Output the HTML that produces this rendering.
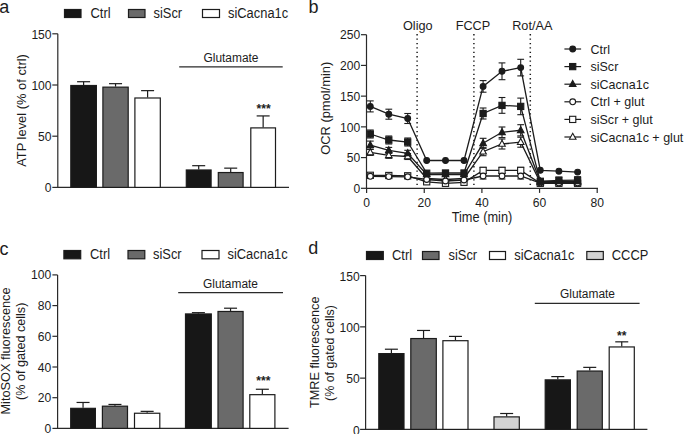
<!DOCTYPE html>
<html><head><meta charset="utf-8"><style>
html,body{margin:0;padding:0;background:#fff;}
svg{display:block;}
text{font-family:"Liberation Sans",sans-serif;fill:#1c1c1c;}
</style></head><body>
<svg width="685" height="434" viewBox="0 0 685 434">
<rect width="685" height="434" fill="#fff"/>
<text transform="translate(-0.80,12.90)" font-size="18" text-anchor="start" >a</text>
<rect x="64.5" y="9.5" width="16.5" height="8" fill="#171717" stroke="#1c1c1c" stroke-width="1.2"/>
<text transform="translate(90.50,18.00) scale(0.97,1.045)" font-size="13.3" text-anchor="start" >Ctrl</text>
<rect x="128.5" y="9.5" width="16.5" height="8" fill="#6a6a6a" stroke="#1c1c1c" stroke-width="1.2"/>
<text transform="translate(153.50,18.00) scale(0.97,1.045)" font-size="13.3" text-anchor="start" >siScr</text>
<rect x="202.5" y="9.5" width="17" height="8" fill="#fff" stroke="#1c1c1c" stroke-width="1.2"/>
<text transform="translate(228.00,18.00) scale(0.97,1.045)" font-size="13.3" text-anchor="start" >siCacna1c</text>
<line x1="57.8" y1="33.8" x2="57.8" y2="187.9" stroke="#2a2a2a" stroke-width="1.2" />
<line x1="52.3" y1="187.4" x2="57.8" y2="187.4" stroke="#2a2a2a" stroke-width="1.2" />
<text transform="translate(51.60,192.10) scale(0.97,1.045)" font-size="12.5" text-anchor="end" >0</text>
<line x1="52.3" y1="136.2" x2="57.8" y2="136.2" stroke="#2a2a2a" stroke-width="1.2" />
<text transform="translate(51.60,140.90) scale(0.97,1.045)" font-size="12.5" text-anchor="end" >50</text>
<line x1="52.3" y1="84.99999999999999" x2="57.8" y2="84.99999999999999" stroke="#2a2a2a" stroke-width="1.2" />
<text transform="translate(51.60,89.70) scale(0.97,1.045)" font-size="12.5" text-anchor="end" >100</text>
<line x1="52.3" y1="33.79999999999998" x2="57.8" y2="33.79999999999998" stroke="#2a2a2a" stroke-width="1.2" />
<text transform="translate(51.60,38.50) scale(0.97,1.045)" font-size="12.5" text-anchor="end" >150</text>
<line x1="57.8" y1="187.4" x2="289" y2="187.4" stroke="#2a2a2a" stroke-width="1.2" />
<line x1="83.6" y1="84.99999999999999" x2="83.6" y2="81.72319999999998" stroke="#1c1c1c" stroke-width="1.2" />
<line x1="77.1" y1="81.72319999999998" x2="90.1" y2="81.72319999999998" stroke="#1c1c1c" stroke-width="1.2" />
<rect x="70.8" y="85.49999999999999" width="25.60000000000001" height="101.90000000000002" fill="#171717" stroke="#1c1c1c" stroke-width="1.2"/>
<line x1="115.55" y1="86.63839999999998" x2="115.55" y2="83.66879999999999" stroke="#1c1c1c" stroke-width="1.2" />
<line x1="109.05" y1="83.66879999999999" x2="122.05" y2="83.66879999999999" stroke="#1c1c1c" stroke-width="1.2" />
<rect x="102.9" y="87.13839999999998" width="25.299999999999983" height="100.26160000000003" fill="#6a6a6a" stroke="#1c1c1c" stroke-width="1.2"/>
<line x1="147.60000000000002" y1="97.49279999999999" x2="147.60000000000002" y2="90.63199999999998" stroke="#1c1c1c" stroke-width="1.2" />
<line x1="141.10000000000002" y1="90.63199999999998" x2="154.10000000000002" y2="90.63199999999998" stroke="#1c1c1c" stroke-width="1.2" />
<rect x="134.9" y="97.99279999999999" width="25.400000000000006" height="89.40720000000002" fill="#fff" stroke="#1c1c1c" stroke-width="1.2"/>
<line x1="198.7" y1="169.48" x2="198.7" y2="165.6912" stroke="#1c1c1c" stroke-width="1.2" />
<line x1="192.2" y1="165.6912" x2="205.2" y2="165.6912" stroke="#1c1c1c" stroke-width="1.2" />
<rect x="186.3" y="169.98" width="24.799999999999983" height="17.420000000000016" fill="#171717" stroke="#1c1c1c" stroke-width="1.2"/>
<line x1="230.7" y1="172.04" x2="230.7" y2="168.1488" stroke="#1c1c1c" stroke-width="1.2" />
<line x1="224.2" y1="168.1488" x2="237.2" y2="168.1488" stroke="#1c1c1c" stroke-width="1.2" />
<rect x="218.3" y="172.54" width="24.799999999999983" height="14.860000000000014" fill="#6a6a6a" stroke="#1c1c1c" stroke-width="1.2"/>
<line x1="263.15" y1="127.39359999999999" x2="263.15" y2="115.92479999999999" stroke="#1c1c1c" stroke-width="1.2" />
<line x1="256.65" y1="115.92479999999999" x2="269.65" y2="115.92479999999999" stroke="#1c1c1c" stroke-width="1.2" />
<rect x="250.8" y="127.89359999999999" width="24.69999999999999" height="59.50640000000001" fill="#fff" stroke="#1c1c1c" stroke-width="1.2"/>
<line x1="179.2" y1="66.9" x2="282.7" y2="66.9" stroke="#2a2a2a" stroke-width="1.2" />
<text transform="translate(231.00,61.50) scale(0.97,1.045)" font-size="12.3" text-anchor="middle" >Glutamate</text>
<text transform="translate(263.60,112.70) scale(0.97,1.045)" font-size="12.5" text-anchor="middle" font-weight="bold">***</text>
<text transform="translate(25.50,110.50) rotate(-90) scale(0.97,1.03)" font-size="13.3" text-anchor="middle" >ATP level (% of ctrl)</text>
<text transform="translate(308.40,12.90)" font-size="18" text-anchor="start" >b</text>
<line x1="366.5" y1="34.7" x2="366.5" y2="188.8" stroke="#2a2a2a" stroke-width="1.2" />
<line x1="361.0" y1="188.3" x2="366.5" y2="188.3" stroke="#2a2a2a" stroke-width="1.2" />
<text transform="translate(360.20,193.00) scale(0.97,1.045)" font-size="12.5" text-anchor="end" >0</text>
<line x1="361.0" y1="157.58" x2="366.5" y2="157.58" stroke="#2a2a2a" stroke-width="1.2" />
<text transform="translate(360.20,162.28) scale(0.97,1.045)" font-size="12.5" text-anchor="end" >50</text>
<line x1="361.0" y1="126.86000000000001" x2="366.5" y2="126.86000000000001" stroke="#2a2a2a" stroke-width="1.2" />
<text transform="translate(360.20,131.56) scale(0.97,1.045)" font-size="12.5" text-anchor="end" >100</text>
<line x1="361.0" y1="96.14" x2="366.5" y2="96.14" stroke="#2a2a2a" stroke-width="1.2" />
<text transform="translate(360.20,100.84) scale(0.97,1.045)" font-size="12.5" text-anchor="end" >150</text>
<line x1="361.0" y1="65.42" x2="366.5" y2="65.42" stroke="#2a2a2a" stroke-width="1.2" />
<text transform="translate(360.20,70.12) scale(0.97,1.045)" font-size="12.5" text-anchor="end" >200</text>
<line x1="361.0" y1="34.69999999999999" x2="366.5" y2="34.69999999999999" stroke="#2a2a2a" stroke-width="1.2" />
<text transform="translate(360.20,39.40) scale(0.97,1.045)" font-size="12.5" text-anchor="end" >250</text>
<line x1="366.5" y1="188.3" x2="598.0" y2="188.3" stroke="#2a2a2a" stroke-width="1.2" />
<line x1="366.6" y1="188.3" x2="366.6" y2="192.9" stroke="#2a2a2a" stroke-width="1.2" />
<text transform="translate(366.60,206.50) scale(0.97,1.045)" font-size="12.5" text-anchor="middle" >0</text>
<line x1="424.25" y1="188.3" x2="424.25" y2="192.9" stroke="#2a2a2a" stroke-width="1.2" />
<text transform="translate(424.25,206.50) scale(0.97,1.045)" font-size="12.5" text-anchor="middle" >20</text>
<line x1="481.90000000000003" y1="188.3" x2="481.90000000000003" y2="192.9" stroke="#2a2a2a" stroke-width="1.2" />
<text transform="translate(481.90,206.50) scale(0.97,1.045)" font-size="12.5" text-anchor="middle" >40</text>
<line x1="539.55" y1="188.3" x2="539.55" y2="192.9" stroke="#2a2a2a" stroke-width="1.2" />
<text transform="translate(539.55,206.50) scale(0.97,1.045)" font-size="12.5" text-anchor="middle" >60</text>
<line x1="597.2" y1="188.3" x2="597.2" y2="192.9" stroke="#2a2a2a" stroke-width="1.2" />
<text transform="translate(597.20,206.50) scale(0.97,1.045)" font-size="12.5" text-anchor="middle" >80</text>
<text transform="translate(482.00,221.50) scale(0.97,1.045)" font-size="13.2" text-anchor="middle" >Time (min)</text>
<text transform="translate(330.30,108.30) rotate(-90) scale(0.97,1.03)" font-size="13.3" text-anchor="middle" >OCR (pmol/min)</text>
<line x1="417.1" y1="34.1" x2="417.1" y2="188.3" stroke="#1c1c1c" stroke-width="1.5" stroke-dasharray="1.3 3.1"/>
<text transform="translate(417.80,29.50) scale(0.97,1.045)" font-size="13.1" text-anchor="middle" >Oligo</text>
<line x1="473.9" y1="34.1" x2="473.9" y2="188.3" stroke="#1c1c1c" stroke-width="1.5" stroke-dasharray="1.3 3.1"/>
<text transform="translate(472.90,29.50) scale(0.97,1.045)" font-size="13.1" text-anchor="middle" >FCCP</text>
<line x1="530.3" y1="34.1" x2="530.3" y2="188.3" stroke="#1c1c1c" stroke-width="1.5" stroke-dasharray="1.3 3.1"/>
<text transform="translate(532.30,29.50) scale(0.97,1.045)" font-size="13.1" text-anchor="middle" >Rot/AA</text>
<polyline points="370.3,106.4 388.8,114.2 407.7,118.5 426.7,160.5 445.5,160.5 464.0,160.5 483.1,86.4 502.0,71.3 520.7,67.6 540.3,170.3 558.9,171.2 577.6,172.1" fill="none" stroke="#1c1c1c" stroke-width="1.3"/>
<polyline points="370.3,134 388.8,140 407.7,142 426.7,173.2 445.5,173.0 464.0,173.0 483.1,113.5 502.0,105.4 520.7,106.4 540.3,181.3 558.9,180.3 577.6,180.2" fill="none" stroke="#1c1c1c" stroke-width="1.3"/>
<polyline points="370.3,145.1 388.8,150.4 407.7,153.3 426.7,174.5 445.5,174.5 464.0,174.5 483.1,143.3 502.0,132.3 520.7,130.3 540.3,181.5 558.9,181.5 577.6,181.5" fill="none" stroke="#1c1c1c" stroke-width="1.3"/>
<polyline points="370.3,176.3 388.8,176.6 407.7,176.8 426.7,179.5 445.5,181 464.0,180 483.1,176 502.0,176 520.7,176 540.3,183 558.9,183 577.6,183" fill="none" stroke="#1c1c1c" stroke-width="1.3"/>
<polyline points="370.3,175.3 388.8,175.5 407.7,175.8 426.7,181.8 445.5,183.3 464.0,182.3 483.1,170.4 502.0,170.4 520.7,170.4 540.3,183.3 558.9,183.3 577.6,183.3" fill="none" stroke="#1c1c1c" stroke-width="1.3"/>
<polyline points="370.3,152.4 388.8,155.3 407.7,156.5 426.7,178.5 445.5,179.5 464.0,178.5 483.1,151.7 502.0,144 520.7,142.2 540.3,182.5 558.9,182.5 577.6,182.5" fill="none" stroke="#1c1c1c" stroke-width="1.3"/>
<line x1="370.3" y1="100.9" x2="370.3" y2="111.9" stroke="#1c1c1c" stroke-width="1.1" />
<line x1="366.90000000000003" y1="100.9" x2="373.7" y2="100.9" stroke="#1c1c1c" stroke-width="1.1" />
<line x1="366.90000000000003" y1="111.9" x2="373.7" y2="111.9" stroke="#1c1c1c" stroke-width="1.1" />
<line x1="388.8" y1="109.2" x2="388.8" y2="119.2" stroke="#1c1c1c" stroke-width="1.1" />
<line x1="385.40000000000003" y1="109.2" x2="392.2" y2="109.2" stroke="#1c1c1c" stroke-width="1.1" />
<line x1="385.40000000000003" y1="119.2" x2="392.2" y2="119.2" stroke="#1c1c1c" stroke-width="1.1" />
<line x1="407.7" y1="113.5" x2="407.7" y2="123.5" stroke="#1c1c1c" stroke-width="1.1" />
<line x1="404.3" y1="113.5" x2="411.09999999999997" y2="113.5" stroke="#1c1c1c" stroke-width="1.1" />
<line x1="404.3" y1="123.5" x2="411.09999999999997" y2="123.5" stroke="#1c1c1c" stroke-width="1.1" />
<line x1="483.1" y1="80.60000000000001" x2="483.1" y2="92.2" stroke="#1c1c1c" stroke-width="1.1" />
<line x1="479.70000000000005" y1="80.60000000000001" x2="486.5" y2="80.60000000000001" stroke="#1c1c1c" stroke-width="1.1" />
<line x1="479.70000000000005" y1="92.2" x2="486.5" y2="92.2" stroke="#1c1c1c" stroke-width="1.1" />
<line x1="502.0" y1="62.9" x2="502.0" y2="79.7" stroke="#1c1c1c" stroke-width="1.1" />
<line x1="498.6" y1="62.9" x2="505.4" y2="62.9" stroke="#1c1c1c" stroke-width="1.1" />
<line x1="498.6" y1="79.7" x2="505.4" y2="79.7" stroke="#1c1c1c" stroke-width="1.1" />
<line x1="520.7" y1="59.3" x2="520.7" y2="75.89999999999999" stroke="#1c1c1c" stroke-width="1.1" />
<line x1="517.3000000000001" y1="59.3" x2="524.1" y2="59.3" stroke="#1c1c1c" stroke-width="1.1" />
<line x1="517.3000000000001" y1="75.89999999999999" x2="524.1" y2="75.89999999999999" stroke="#1c1c1c" stroke-width="1.1" />
<line x1="370.3" y1="130" x2="370.3" y2="138" stroke="#1c1c1c" stroke-width="1.1" />
<line x1="366.90000000000003" y1="130" x2="373.7" y2="130" stroke="#1c1c1c" stroke-width="1.1" />
<line x1="366.90000000000003" y1="138" x2="373.7" y2="138" stroke="#1c1c1c" stroke-width="1.1" />
<line x1="388.8" y1="136" x2="388.8" y2="144" stroke="#1c1c1c" stroke-width="1.1" />
<line x1="385.40000000000003" y1="136" x2="392.2" y2="136" stroke="#1c1c1c" stroke-width="1.1" />
<line x1="385.40000000000003" y1="144" x2="392.2" y2="144" stroke="#1c1c1c" stroke-width="1.1" />
<line x1="407.7" y1="138" x2="407.7" y2="146" stroke="#1c1c1c" stroke-width="1.1" />
<line x1="404.3" y1="138" x2="411.09999999999997" y2="138" stroke="#1c1c1c" stroke-width="1.1" />
<line x1="404.3" y1="146" x2="411.09999999999997" y2="146" stroke="#1c1c1c" stroke-width="1.1" />
<line x1="483.1" y1="108.0" x2="483.1" y2="119.0" stroke="#1c1c1c" stroke-width="1.1" />
<line x1="479.70000000000005" y1="108.0" x2="486.5" y2="108.0" stroke="#1c1c1c" stroke-width="1.1" />
<line x1="479.70000000000005" y1="119.0" x2="486.5" y2="119.0" stroke="#1c1c1c" stroke-width="1.1" />
<line x1="502.0" y1="97.5" x2="502.0" y2="113.30000000000001" stroke="#1c1c1c" stroke-width="1.1" />
<line x1="498.6" y1="97.5" x2="505.4" y2="97.5" stroke="#1c1c1c" stroke-width="1.1" />
<line x1="498.6" y1="113.30000000000001" x2="505.4" y2="113.30000000000001" stroke="#1c1c1c" stroke-width="1.1" />
<line x1="520.7" y1="98.10000000000001" x2="520.7" y2="114.7" stroke="#1c1c1c" stroke-width="1.1" />
<line x1="517.3000000000001" y1="98.10000000000001" x2="524.1" y2="98.10000000000001" stroke="#1c1c1c" stroke-width="1.1" />
<line x1="517.3000000000001" y1="114.7" x2="524.1" y2="114.7" stroke="#1c1c1c" stroke-width="1.1" />
<line x1="540.3" y1="178.8" x2="540.3" y2="183.8" stroke="#1c1c1c" stroke-width="1.1" />
<line x1="536.9" y1="178.8" x2="543.6999999999999" y2="178.8" stroke="#1c1c1c" stroke-width="1.1" />
<line x1="536.9" y1="183.8" x2="543.6999999999999" y2="183.8" stroke="#1c1c1c" stroke-width="1.1" />
<line x1="558.9" y1="177.10000000000002" x2="558.9" y2="183.5" stroke="#1c1c1c" stroke-width="1.1" />
<line x1="555.5" y1="177.10000000000002" x2="562.3" y2="177.10000000000002" stroke="#1c1c1c" stroke-width="1.1" />
<line x1="555.5" y1="183.5" x2="562.3" y2="183.5" stroke="#1c1c1c" stroke-width="1.1" />
<line x1="577.6" y1="176.7" x2="577.6" y2="183.7" stroke="#1c1c1c" stroke-width="1.1" />
<line x1="574.2" y1="176.7" x2="581.0" y2="176.7" stroke="#1c1c1c" stroke-width="1.1" />
<line x1="574.2" y1="183.7" x2="581.0" y2="183.7" stroke="#1c1c1c" stroke-width="1.1" />
<line x1="370.3" y1="141.1" x2="370.3" y2="149.1" stroke="#1c1c1c" stroke-width="1.1" />
<line x1="366.90000000000003" y1="141.1" x2="373.7" y2="141.1" stroke="#1c1c1c" stroke-width="1.1" />
<line x1="366.90000000000003" y1="149.1" x2="373.7" y2="149.1" stroke="#1c1c1c" stroke-width="1.1" />
<line x1="388.8" y1="147.4" x2="388.8" y2="153.4" stroke="#1c1c1c" stroke-width="1.1" />
<line x1="385.40000000000003" y1="147.4" x2="392.2" y2="147.4" stroke="#1c1c1c" stroke-width="1.1" />
<line x1="385.40000000000003" y1="153.4" x2="392.2" y2="153.4" stroke="#1c1c1c" stroke-width="1.1" />
<line x1="407.7" y1="150.3" x2="407.7" y2="156.3" stroke="#1c1c1c" stroke-width="1.1" />
<line x1="404.3" y1="150.3" x2="411.09999999999997" y2="150.3" stroke="#1c1c1c" stroke-width="1.1" />
<line x1="404.3" y1="156.3" x2="411.09999999999997" y2="156.3" stroke="#1c1c1c" stroke-width="1.1" />
<line x1="483.1" y1="138.3" x2="483.1" y2="148.3" stroke="#1c1c1c" stroke-width="1.1" />
<line x1="479.70000000000005" y1="138.3" x2="486.5" y2="138.3" stroke="#1c1c1c" stroke-width="1.1" />
<line x1="479.70000000000005" y1="148.3" x2="486.5" y2="148.3" stroke="#1c1c1c" stroke-width="1.1" />
<line x1="502.0" y1="127.00000000000001" x2="502.0" y2="137.60000000000002" stroke="#1c1c1c" stroke-width="1.1" />
<line x1="498.6" y1="127.00000000000001" x2="505.4" y2="127.00000000000001" stroke="#1c1c1c" stroke-width="1.1" />
<line x1="498.6" y1="137.60000000000002" x2="505.4" y2="137.60000000000002" stroke="#1c1c1c" stroke-width="1.1" />
<line x1="520.7" y1="124.70000000000002" x2="520.7" y2="135.9" stroke="#1c1c1c" stroke-width="1.1" />
<line x1="517.3000000000001" y1="124.70000000000002" x2="524.1" y2="124.70000000000002" stroke="#1c1c1c" stroke-width="1.1" />
<line x1="517.3000000000001" y1="135.9" x2="524.1" y2="135.9" stroke="#1c1c1c" stroke-width="1.1" />
<line x1="483.1" y1="173" x2="483.1" y2="179" stroke="#1c1c1c" stroke-width="1.1" />
<line x1="479.70000000000005" y1="173" x2="486.5" y2="173" stroke="#1c1c1c" stroke-width="1.1" />
<line x1="479.70000000000005" y1="179" x2="486.5" y2="179" stroke="#1c1c1c" stroke-width="1.1" />
<line x1="502.0" y1="173" x2="502.0" y2="179" stroke="#1c1c1c" stroke-width="1.1" />
<line x1="498.6" y1="173" x2="505.4" y2="173" stroke="#1c1c1c" stroke-width="1.1" />
<line x1="498.6" y1="179" x2="505.4" y2="179" stroke="#1c1c1c" stroke-width="1.1" />
<line x1="520.7" y1="173" x2="520.7" y2="179" stroke="#1c1c1c" stroke-width="1.1" />
<line x1="517.3000000000001" y1="173" x2="524.1" y2="173" stroke="#1c1c1c" stroke-width="1.1" />
<line x1="517.3000000000001" y1="179" x2="524.1" y2="179" stroke="#1c1c1c" stroke-width="1.1" />
<line x1="483.1" y1="167.4" x2="483.1" y2="173.4" stroke="#1c1c1c" stroke-width="1.1" />
<line x1="479.70000000000005" y1="167.4" x2="486.5" y2="167.4" stroke="#1c1c1c" stroke-width="1.1" />
<line x1="479.70000000000005" y1="173.4" x2="486.5" y2="173.4" stroke="#1c1c1c" stroke-width="1.1" />
<line x1="502.0" y1="167.4" x2="502.0" y2="173.4" stroke="#1c1c1c" stroke-width="1.1" />
<line x1="498.6" y1="167.4" x2="505.4" y2="167.4" stroke="#1c1c1c" stroke-width="1.1" />
<line x1="498.6" y1="173.4" x2="505.4" y2="173.4" stroke="#1c1c1c" stroke-width="1.1" />
<line x1="520.7" y1="167.4" x2="520.7" y2="173.4" stroke="#1c1c1c" stroke-width="1.1" />
<line x1="517.3000000000001" y1="167.4" x2="524.1" y2="167.4" stroke="#1c1c1c" stroke-width="1.1" />
<line x1="517.3000000000001" y1="173.4" x2="524.1" y2="173.4" stroke="#1c1c1c" stroke-width="1.1" />
<line x1="370.3" y1="149.4" x2="370.3" y2="155.4" stroke="#1c1c1c" stroke-width="1.1" />
<line x1="366.90000000000003" y1="149.4" x2="373.7" y2="149.4" stroke="#1c1c1c" stroke-width="1.1" />
<line x1="366.90000000000003" y1="155.4" x2="373.7" y2="155.4" stroke="#1c1c1c" stroke-width="1.1" />
<line x1="388.8" y1="152.3" x2="388.8" y2="158.3" stroke="#1c1c1c" stroke-width="1.1" />
<line x1="385.40000000000003" y1="152.3" x2="392.2" y2="152.3" stroke="#1c1c1c" stroke-width="1.1" />
<line x1="385.40000000000003" y1="158.3" x2="392.2" y2="158.3" stroke="#1c1c1c" stroke-width="1.1" />
<line x1="407.7" y1="153.5" x2="407.7" y2="159.5" stroke="#1c1c1c" stroke-width="1.1" />
<line x1="404.3" y1="153.5" x2="411.09999999999997" y2="153.5" stroke="#1c1c1c" stroke-width="1.1" />
<line x1="404.3" y1="159.5" x2="411.09999999999997" y2="159.5" stroke="#1c1c1c" stroke-width="1.1" />
<line x1="483.1" y1="147.7" x2="483.1" y2="155.7" stroke="#1c1c1c" stroke-width="1.1" />
<line x1="479.70000000000005" y1="147.7" x2="486.5" y2="147.7" stroke="#1c1c1c" stroke-width="1.1" />
<line x1="479.70000000000005" y1="155.7" x2="486.5" y2="155.7" stroke="#1c1c1c" stroke-width="1.1" />
<line x1="502.0" y1="139" x2="502.0" y2="149" stroke="#1c1c1c" stroke-width="1.1" />
<line x1="498.6" y1="139" x2="505.4" y2="139" stroke="#1c1c1c" stroke-width="1.1" />
<line x1="498.6" y1="149" x2="505.4" y2="149" stroke="#1c1c1c" stroke-width="1.1" />
<line x1="520.7" y1="137.2" x2="520.7" y2="147.2" stroke="#1c1c1c" stroke-width="1.1" />
<line x1="517.3000000000001" y1="137.2" x2="524.1" y2="137.2" stroke="#1c1c1c" stroke-width="1.1" />
<line x1="517.3000000000001" y1="147.2" x2="524.1" y2="147.2" stroke="#1c1c1c" stroke-width="1.1" />
<polygon points="370.3,148.70000000000002 373.6,154.70000000000002 367.0,154.70000000000002" fill="#fff" stroke="#1c1c1c" stroke-width="1.1" stroke-linejoin="miter"/>
<polygon points="388.8,151.60000000000002 392.1,157.60000000000002 385.5,157.60000000000002" fill="#fff" stroke="#1c1c1c" stroke-width="1.1" stroke-linejoin="miter"/>
<polygon points="407.7,152.8 411.0,158.8 404.4,158.8" fill="#fff" stroke="#1c1c1c" stroke-width="1.1" stroke-linejoin="miter"/>
<polygon points="426.7,174.8 430.0,180.8 423.4,180.8" fill="#fff" stroke="#1c1c1c" stroke-width="1.1" stroke-linejoin="miter"/>
<polygon points="445.5,175.8 448.8,181.8 442.2,181.8" fill="#fff" stroke="#1c1c1c" stroke-width="1.1" stroke-linejoin="miter"/>
<polygon points="464.0,174.8 467.3,180.8 460.7,180.8" fill="#fff" stroke="#1c1c1c" stroke-width="1.1" stroke-linejoin="miter"/>
<polygon points="483.1,148.0 486.40000000000003,154.0 479.8,154.0" fill="#fff" stroke="#1c1c1c" stroke-width="1.1" stroke-linejoin="miter"/>
<polygon points="502.0,140.3 505.3,146.3 498.7,146.3" fill="#fff" stroke="#1c1c1c" stroke-width="1.1" stroke-linejoin="miter"/>
<polygon points="520.7,138.5 524.0,144.5 517.4000000000001,144.5" fill="#fff" stroke="#1c1c1c" stroke-width="1.1" stroke-linejoin="miter"/>
<polygon points="540.3,178.8 543.5999999999999,184.8 537.0,184.8" fill="#fff" stroke="#1c1c1c" stroke-width="1.1" stroke-linejoin="miter"/>
<polygon points="558.9,178.8 562.1999999999999,184.8 555.6,184.8" fill="#fff" stroke="#1c1c1c" stroke-width="1.1" stroke-linejoin="miter"/>
<polygon points="577.6,178.8 580.9,184.8 574.3000000000001,184.8" fill="#fff" stroke="#1c1c1c" stroke-width="1.1" stroke-linejoin="miter"/>
<rect x="367.2" y="172.20000000000002" width="6.2" height="6.2" fill="#fff" stroke="#1c1c1c" stroke-width="1.1"/>
<rect x="385.7" y="172.4" width="6.2" height="6.2" fill="#fff" stroke="#1c1c1c" stroke-width="1.1"/>
<rect x="404.59999999999997" y="172.70000000000002" width="6.2" height="6.2" fill="#fff" stroke="#1c1c1c" stroke-width="1.1"/>
<rect x="423.59999999999997" y="178.70000000000002" width="6.2" height="6.2" fill="#fff" stroke="#1c1c1c" stroke-width="1.1"/>
<rect x="442.4" y="180.20000000000002" width="6.2" height="6.2" fill="#fff" stroke="#1c1c1c" stroke-width="1.1"/>
<rect x="460.9" y="179.20000000000002" width="6.2" height="6.2" fill="#fff" stroke="#1c1c1c" stroke-width="1.1"/>
<rect x="480.0" y="167.3" width="6.2" height="6.2" fill="#fff" stroke="#1c1c1c" stroke-width="1.1"/>
<rect x="498.9" y="167.3" width="6.2" height="6.2" fill="#fff" stroke="#1c1c1c" stroke-width="1.1"/>
<rect x="517.6" y="167.3" width="6.2" height="6.2" fill="#fff" stroke="#1c1c1c" stroke-width="1.1"/>
<rect x="537.1999999999999" y="180.20000000000002" width="6.2" height="6.2" fill="#fff" stroke="#1c1c1c" stroke-width="1.1"/>
<rect x="555.8" y="180.20000000000002" width="6.2" height="6.2" fill="#fff" stroke="#1c1c1c" stroke-width="1.1"/>
<rect x="574.5" y="180.20000000000002" width="6.2" height="6.2" fill="#fff" stroke="#1c1c1c" stroke-width="1.1"/>
<circle cx="370.3" cy="176.3" r="2.9" fill="#fff" stroke="#1c1c1c" stroke-width="1.1"/>
<circle cx="388.8" cy="176.6" r="2.9" fill="#fff" stroke="#1c1c1c" stroke-width="1.1"/>
<circle cx="407.7" cy="176.8" r="2.9" fill="#fff" stroke="#1c1c1c" stroke-width="1.1"/>
<circle cx="426.7" cy="179.5" r="2.9" fill="#fff" stroke="#1c1c1c" stroke-width="1.1"/>
<circle cx="445.5" cy="181" r="2.9" fill="#fff" stroke="#1c1c1c" stroke-width="1.1"/>
<circle cx="464.0" cy="180" r="2.9" fill="#fff" stroke="#1c1c1c" stroke-width="1.1"/>
<circle cx="483.1" cy="176" r="2.9" fill="#fff" stroke="#1c1c1c" stroke-width="1.1"/>
<circle cx="502.0" cy="176" r="2.9" fill="#fff" stroke="#1c1c1c" stroke-width="1.1"/>
<circle cx="520.7" cy="176" r="2.9" fill="#fff" stroke="#1c1c1c" stroke-width="1.1"/>
<circle cx="540.3" cy="183" r="2.9" fill="#fff" stroke="#1c1c1c" stroke-width="1.1"/>
<circle cx="558.9" cy="183" r="2.9" fill="#fff" stroke="#1c1c1c" stroke-width="1.1"/>
<circle cx="577.6" cy="183" r="2.9" fill="#fff" stroke="#1c1c1c" stroke-width="1.1"/>
<polygon points="370.3,141.4 373.6,147.4 367.0,147.4" fill="#1c1c1c" stroke="#1c1c1c" stroke-width="1.1" stroke-linejoin="miter"/>
<polygon points="388.8,146.70000000000002 392.1,152.70000000000002 385.5,152.70000000000002" fill="#1c1c1c" stroke="#1c1c1c" stroke-width="1.1" stroke-linejoin="miter"/>
<polygon points="407.7,149.60000000000002 411.0,155.60000000000002 404.4,155.60000000000002" fill="#1c1c1c" stroke="#1c1c1c" stroke-width="1.1" stroke-linejoin="miter"/>
<polygon points="426.7,170.8 430.0,176.8 423.4,176.8" fill="#1c1c1c" stroke="#1c1c1c" stroke-width="1.1" stroke-linejoin="miter"/>
<polygon points="445.5,170.8 448.8,176.8 442.2,176.8" fill="#1c1c1c" stroke="#1c1c1c" stroke-width="1.1" stroke-linejoin="miter"/>
<polygon points="464.0,170.8 467.3,176.8 460.7,176.8" fill="#1c1c1c" stroke="#1c1c1c" stroke-width="1.1" stroke-linejoin="miter"/>
<polygon points="483.1,139.60000000000002 486.40000000000003,145.60000000000002 479.8,145.60000000000002" fill="#1c1c1c" stroke="#1c1c1c" stroke-width="1.1" stroke-linejoin="miter"/>
<polygon points="502.0,128.60000000000002 505.3,134.60000000000002 498.7,134.60000000000002" fill="#1c1c1c" stroke="#1c1c1c" stroke-width="1.1" stroke-linejoin="miter"/>
<polygon points="520.7,126.60000000000001 524.0,132.60000000000002 517.4000000000001,132.60000000000002" fill="#1c1c1c" stroke="#1c1c1c" stroke-width="1.1" stroke-linejoin="miter"/>
<polygon points="540.3,177.8 543.5999999999999,183.8 537.0,183.8" fill="#1c1c1c" stroke="#1c1c1c" stroke-width="1.1" stroke-linejoin="miter"/>
<polygon points="558.9,177.8 562.1999999999999,183.8 555.6,183.8" fill="#1c1c1c" stroke="#1c1c1c" stroke-width="1.1" stroke-linejoin="miter"/>
<polygon points="577.6,177.8 580.9,183.8 574.3000000000001,183.8" fill="#1c1c1c" stroke="#1c1c1c" stroke-width="1.1" stroke-linejoin="miter"/>
<rect x="367.2" y="130.9" width="6.2" height="6.2" fill="#1c1c1c" stroke="#1c1c1c" stroke-width="1.1"/>
<rect x="385.7" y="136.9" width="6.2" height="6.2" fill="#1c1c1c" stroke="#1c1c1c" stroke-width="1.1"/>
<rect x="404.59999999999997" y="138.9" width="6.2" height="6.2" fill="#1c1c1c" stroke="#1c1c1c" stroke-width="1.1"/>
<rect x="423.59999999999997" y="170.1" width="6.2" height="6.2" fill="#1c1c1c" stroke="#1c1c1c" stroke-width="1.1"/>
<rect x="442.4" y="169.9" width="6.2" height="6.2" fill="#1c1c1c" stroke="#1c1c1c" stroke-width="1.1"/>
<rect x="460.9" y="169.9" width="6.2" height="6.2" fill="#1c1c1c" stroke="#1c1c1c" stroke-width="1.1"/>
<rect x="480.0" y="110.4" width="6.2" height="6.2" fill="#1c1c1c" stroke="#1c1c1c" stroke-width="1.1"/>
<rect x="498.9" y="102.30000000000001" width="6.2" height="6.2" fill="#1c1c1c" stroke="#1c1c1c" stroke-width="1.1"/>
<rect x="517.6" y="103.30000000000001" width="6.2" height="6.2" fill="#1c1c1c" stroke="#1c1c1c" stroke-width="1.1"/>
<rect x="537.1999999999999" y="178.20000000000002" width="6.2" height="6.2" fill="#1c1c1c" stroke="#1c1c1c" stroke-width="1.1"/>
<rect x="555.8" y="177.20000000000002" width="6.2" height="6.2" fill="#1c1c1c" stroke="#1c1c1c" stroke-width="1.1"/>
<rect x="574.5" y="177.1" width="6.2" height="6.2" fill="#1c1c1c" stroke="#1c1c1c" stroke-width="1.1"/>
<circle cx="370.3" cy="106.4" r="2.9" fill="#1c1c1c" stroke="#1c1c1c" stroke-width="1.1"/>
<circle cx="388.8" cy="114.2" r="2.9" fill="#1c1c1c" stroke="#1c1c1c" stroke-width="1.1"/>
<circle cx="407.7" cy="118.5" r="2.9" fill="#1c1c1c" stroke="#1c1c1c" stroke-width="1.1"/>
<circle cx="426.7" cy="160.5" r="2.9" fill="#1c1c1c" stroke="#1c1c1c" stroke-width="1.1"/>
<circle cx="445.5" cy="160.5" r="2.9" fill="#1c1c1c" stroke="#1c1c1c" stroke-width="1.1"/>
<circle cx="464.0" cy="160.5" r="2.9" fill="#1c1c1c" stroke="#1c1c1c" stroke-width="1.1"/>
<circle cx="483.1" cy="86.4" r="2.9" fill="#1c1c1c" stroke="#1c1c1c" stroke-width="1.1"/>
<circle cx="502.0" cy="71.3" r="2.9" fill="#1c1c1c" stroke="#1c1c1c" stroke-width="1.1"/>
<circle cx="520.7" cy="67.6" r="2.9" fill="#1c1c1c" stroke="#1c1c1c" stroke-width="1.1"/>
<circle cx="540.3" cy="170.3" r="2.9" fill="#1c1c1c" stroke="#1c1c1c" stroke-width="1.1"/>
<circle cx="558.9" cy="171.2" r="2.9" fill="#1c1c1c" stroke="#1c1c1c" stroke-width="1.1"/>
<circle cx="577.6" cy="172.1" r="2.9" fill="#1c1c1c" stroke="#1c1c1c" stroke-width="1.1"/>
<line x1="564.4" y1="49.0" x2="581.1" y2="49.0" stroke="#1c1c1c" stroke-width="1.2" />
<circle cx="572.7" cy="49.0" r="2.9" fill="#1c1c1c" stroke="#1c1c1c" stroke-width="1.1"/>
<text transform="translate(590.50,53.50) scale(0.97,1.045)" font-size="12.9" text-anchor="start" >Ctrl</text>
<line x1="564.4" y1="66.6" x2="581.1" y2="66.6" stroke="#1c1c1c" stroke-width="1.2" />
<rect x="569.6" y="63.49999999999999" width="6.2" height="6.2" fill="#1c1c1c" stroke="#1c1c1c" stroke-width="1.1"/>
<text transform="translate(590.50,71.10) scale(0.97,1.045)" font-size="12.9" text-anchor="start" >siScr</text>
<line x1="564.4" y1="84.2" x2="581.1" y2="84.2" stroke="#1c1c1c" stroke-width="1.2" />
<polygon points="572.7,80.5 576.0,86.5 569.4000000000001,86.5" fill="#1c1c1c" stroke="#1c1c1c" stroke-width="1.1" stroke-linejoin="miter"/>
<text transform="translate(590.50,88.70) scale(0.97,1.045)" font-size="12.9" text-anchor="start" >siCacna1c</text>
<line x1="564.4" y1="101.80000000000001" x2="581.1" y2="101.80000000000001" stroke="#1c1c1c" stroke-width="1.2" />
<circle cx="572.7" cy="101.80000000000001" r="2.9" fill="#fff" stroke="#1c1c1c" stroke-width="1.1"/>
<text transform="translate(590.50,106.30) scale(0.97,1.045)" font-size="12.9" text-anchor="start" >Ctrl + glut</text>
<line x1="564.4" y1="119.4" x2="581.1" y2="119.4" stroke="#1c1c1c" stroke-width="1.2" />
<rect x="569.6" y="116.30000000000001" width="6.2" height="6.2" fill="#fff" stroke="#1c1c1c" stroke-width="1.1"/>
<text transform="translate(590.50,123.90) scale(0.97,1.045)" font-size="12.9" text-anchor="start" >siScr + glut</text>
<line x1="564.4" y1="137.0" x2="581.1" y2="137.0" stroke="#1c1c1c" stroke-width="1.2" />
<polygon points="572.7,133.3 576.0,139.3 569.4000000000001,139.3" fill="#fff" stroke="#1c1c1c" stroke-width="1.1" stroke-linejoin="miter"/>
<text transform="translate(590.50,141.50) scale(0.97,1.045)" font-size="12.9" text-anchor="start" >siCacna1c + glut</text>
<text transform="translate(-0.60,254.90)" font-size="18" text-anchor="start" >c</text>
<rect x="63.9" y="250.5" width="16.8" height="8.3" fill="#171717" stroke="#1c1c1c" stroke-width="1.2"/>
<text transform="translate(90.00,259.30) scale(0.97,1.045)" font-size="13.3" text-anchor="start" >Ctrl</text>
<rect x="128.0" y="250.5" width="16.8" height="8.3" fill="#6a6a6a" stroke="#1c1c1c" stroke-width="1.2"/>
<text transform="translate(153.00,259.30) scale(0.97,1.045)" font-size="13.3" text-anchor="start" >siScr</text>
<rect x="202.0" y="250.5" width="17" height="8.3" fill="#fff" stroke="#1c1c1c" stroke-width="1.2"/>
<text transform="translate(227.50,259.30) scale(0.97,1.045)" font-size="13.3" text-anchor="start" >siCacna1c</text>
<line x1="57.6" y1="274.9" x2="57.6" y2="428.9" stroke="#2a2a2a" stroke-width="1.2" />
<line x1="52.4" y1="428.4" x2="57.6" y2="428.4" stroke="#2a2a2a" stroke-width="1.2" />
<text transform="translate(51.20,432.90) scale(0.97,1.045)" font-size="12.5" text-anchor="end" >0</text>
<line x1="52.4" y1="397.7" x2="57.6" y2="397.7" stroke="#2a2a2a" stroke-width="1.2" />
<text transform="translate(51.20,402.20) scale(0.97,1.045)" font-size="12.5" text-anchor="end" >20</text>
<line x1="52.4" y1="367.0" x2="57.6" y2="367.0" stroke="#2a2a2a" stroke-width="1.2" />
<text transform="translate(51.20,371.50) scale(0.97,1.045)" font-size="12.5" text-anchor="end" >40</text>
<line x1="52.4" y1="336.29999999999995" x2="57.6" y2="336.29999999999995" stroke="#2a2a2a" stroke-width="1.2" />
<text transform="translate(51.20,340.80) scale(0.97,1.045)" font-size="12.5" text-anchor="end" >60</text>
<line x1="52.4" y1="305.59999999999997" x2="57.6" y2="305.59999999999997" stroke="#2a2a2a" stroke-width="1.2" />
<text transform="translate(51.20,310.10) scale(0.97,1.045)" font-size="12.5" text-anchor="end" >80</text>
<line x1="52.4" y1="274.9" x2="57.6" y2="274.9" stroke="#2a2a2a" stroke-width="1.2" />
<text transform="translate(51.20,279.40) scale(0.97,1.045)" font-size="12.5" text-anchor="end" >100</text>
<line x1="57.6" y1="428.4" x2="288.6" y2="428.4" stroke="#2a2a2a" stroke-width="1.2" />
<line x1="83.05000000000001" y1="407.83099999999996" x2="83.05000000000001" y2="402.45849999999996" stroke="#1c1c1c" stroke-width="1.2" />
<line x1="76.55000000000001" y1="402.45849999999996" x2="89.55000000000001" y2="402.45849999999996" stroke="#1c1c1c" stroke-width="1.2" />
<rect x="70.7" y="408.33099999999996" width="24.700000000000003" height="20.069000000000017" fill="#171717" stroke="#1c1c1c" stroke-width="1.2"/>
<line x1="114.95" y1="405.68199999999996" x2="114.95" y2="404.45399999999995" stroke="#1c1c1c" stroke-width="1.2" />
<line x1="108.45" y1="404.45399999999995" x2="121.45" y2="404.45399999999995" stroke="#1c1c1c" stroke-width="1.2" />
<rect x="102.4" y="406.18199999999996" width="25.099999999999994" height="22.218000000000018" fill="#6a6a6a" stroke="#1c1c1c" stroke-width="1.2"/>
<line x1="147.15" y1="412.743" x2="147.15" y2="411.3615" stroke="#1c1c1c" stroke-width="1.2" />
<line x1="140.65" y1="411.3615" x2="153.65" y2="411.3615" stroke="#1c1c1c" stroke-width="1.2" />
<rect x="134.5" y="413.243" width="25.30000000000001" height="15.156999999999982" fill="#fff" stroke="#1c1c1c" stroke-width="1.2"/>
<line x1="198.4" y1="313.4285" x2="198.4" y2="312.66099999999994" stroke="#1c1c1c" stroke-width="1.2" />
<line x1="191.9" y1="312.66099999999994" x2="204.9" y2="312.66099999999994" stroke="#1c1c1c" stroke-width="1.2" />
<rect x="185.5" y="313.9285" width="25.80000000000001" height="114.47149999999999" fill="#171717" stroke="#1c1c1c" stroke-width="1.2"/>
<line x1="230.55" y1="310.97249999999997" x2="230.55" y2="308.2095" stroke="#1c1c1c" stroke-width="1.2" />
<line x1="224.05" y1="308.2095" x2="237.05" y2="308.2095" stroke="#1c1c1c" stroke-width="1.2" />
<rect x="218.0" y="311.47249999999997" width="25.099999999999994" height="116.92750000000001" fill="#6a6a6a" stroke="#1c1c1c" stroke-width="1.2"/>
<line x1="262.35" y1="394.16949999999997" x2="262.35" y2="389.2575" stroke="#1c1c1c" stroke-width="1.2" />
<line x1="255.85000000000002" y1="389.2575" x2="268.85" y2="389.2575" stroke="#1c1c1c" stroke-width="1.2" />
<rect x="249.8" y="394.66949999999997" width="25.099999999999966" height="33.730500000000006" fill="#fff" stroke="#1c1c1c" stroke-width="1.2"/>
<line x1="178.2" y1="292.7" x2="283" y2="292.7" stroke="#2a2a2a" stroke-width="1.2" />
<text transform="translate(230.50,288.20) scale(0.97,1.045)" font-size="12.3" text-anchor="middle" >Glutamate</text>
<text transform="translate(263.30,385.30) scale(0.97,1.045)" font-size="12.5" text-anchor="middle" font-weight="bold">***</text>
<text transform="translate(9.70,351.00) rotate(-90) scale(0.97,1.03)" font-size="13.2" text-anchor="middle" >MitoSOX fluorescence</text>
<text transform="translate(24.90,351.30) rotate(-90) scale(0.97,1.0)" font-size="13" text-anchor="middle" >(% of gated cells)</text>
<text transform="translate(308.20,254.30)" font-size="18" text-anchor="start" >d</text>
<rect x="366.5" y="251.5" width="16.8" height="8" fill="#171717" stroke="#1c1c1c" stroke-width="1.2"/>
<text transform="translate(392.00,260.00) scale(0.97,1.045)" font-size="13.3" text-anchor="start" >Ctrl</text>
<rect x="422.5" y="251.5" width="16.5" height="8" fill="#6a6a6a" stroke="#1c1c1c" stroke-width="1.2"/>
<text transform="translate(448.50,260.00) scale(0.97,1.045)" font-size="13.3" text-anchor="start" >siScr</text>
<rect x="489.5" y="251.5" width="16" height="8" fill="#fff" stroke="#1c1c1c" stroke-width="1.2"/>
<text transform="translate(514.30,260.00) scale(0.97,1.045)" font-size="13.3" text-anchor="start" >siCacna1c</text>
<rect x="586.8" y="251.5" width="16.5" height="8" fill="#d3d3d3" stroke="#1c1c1c" stroke-width="1.2"/>
<text transform="translate(611.80,260.00) scale(0.97,1.045)" font-size="13.3" text-anchor="start" >CCCP</text>
<line x1="365.6" y1="275.6" x2="365.6" y2="429.9" stroke="#2a2a2a" stroke-width="1.2" />
<line x1="360.1" y1="429.4" x2="365.6" y2="429.4" stroke="#2a2a2a" stroke-width="1.2" />
<text transform="translate(359.80,434.60) scale(0.97,1.045)" font-size="12.5" text-anchor="end" >0</text>
<line x1="360.1" y1="378.1333333333333" x2="365.6" y2="378.1333333333333" stroke="#2a2a2a" stroke-width="1.2" />
<text transform="translate(359.80,383.33) scale(0.97,1.045)" font-size="12.5" text-anchor="end" >50</text>
<line x1="360.1" y1="326.8666666666667" x2="365.6" y2="326.8666666666667" stroke="#2a2a2a" stroke-width="1.2" />
<text transform="translate(359.80,332.07) scale(0.97,1.045)" font-size="12.5" text-anchor="end" >100</text>
<line x1="360.1" y1="275.6" x2="365.6" y2="275.6" stroke="#2a2a2a" stroke-width="1.2" />
<text transform="translate(359.80,280.80) scale(0.97,1.045)" font-size="12.5" text-anchor="end" >150</text>
<line x1="365.6" y1="429.4" x2="647.4" y2="429.4" stroke="#2a2a2a" stroke-width="1.2" />
<line x1="391.4" y1="353.1152" x2="391.4" y2="349.2189333333333" stroke="#1c1c1c" stroke-width="1.2" />
<line x1="384.9" y1="349.2189333333333" x2="397.9" y2="349.2189333333333" stroke="#1c1c1c" stroke-width="1.2" />
<rect x="378.8" y="353.6152" width="25.19999999999999" height="75.78479999999996" fill="#171717" stroke="#1c1c1c" stroke-width="1.2"/>
<line x1="423.55" y1="338.0428" x2="423.55" y2="330.45533333333333" stroke="#1c1c1c" stroke-width="1.2" />
<line x1="417.05" y1="330.45533333333333" x2="430.05" y2="330.45533333333333" stroke="#1c1c1c" stroke-width="1.2" />
<rect x="410.8" y="338.5428" width="25.5" height="90.85719999999998" fill="#6a6a6a" stroke="#1c1c1c" stroke-width="1.2"/>
<line x1="455.45" y1="340.196" x2="455.45" y2="336.40226666666666" stroke="#1c1c1c" stroke-width="1.2" />
<line x1="448.95" y1="336.40226666666666" x2="461.95" y2="336.40226666666666" stroke="#1c1c1c" stroke-width="1.2" />
<rect x="442.9" y="340.696" width="25.100000000000023" height="88.70399999999995" fill="#fff" stroke="#1c1c1c" stroke-width="1.2"/>
<line x1="506.65" y1="416.37826666666666" x2="506.65" y2="413.5073333333333" stroke="#1c1c1c" stroke-width="1.2" />
<line x1="500.15" y1="413.5073333333333" x2="513.15" y2="413.5073333333333" stroke="#1c1c1c" stroke-width="1.2" />
<rect x="494.0" y="416.87826666666666" width="25.299999999999955" height="12.521733333333316" fill="#d3d3d3" stroke="#1c1c1c" stroke-width="1.2"/>
<line x1="557.8" y1="379.36373333333336" x2="557.8" y2="376.5953333333333" stroke="#1c1c1c" stroke-width="1.2" />
<line x1="551.3" y1="376.5953333333333" x2="564.3" y2="376.5953333333333" stroke="#1c1c1c" stroke-width="1.2" />
<rect x="545.2" y="379.86373333333336" width="25.199999999999932" height="49.53626666666662" fill="#171717" stroke="#1c1c1c" stroke-width="1.2"/>
<line x1="589.75" y1="370.54586666666665" x2="589.75" y2="367.36733333333336" stroke="#1c1c1c" stroke-width="1.2" />
<line x1="583.25" y1="367.36733333333336" x2="596.25" y2="367.36733333333336" stroke="#1c1c1c" stroke-width="1.2" />
<rect x="577.2" y="371.04586666666665" width="25.09999999999991" height="58.35413333333332" fill="#6a6a6a" stroke="#1c1c1c" stroke-width="1.2"/>
<line x1="621.75" y1="346.45053333333334" x2="621.75" y2="341.83653333333336" stroke="#1c1c1c" stroke-width="1.2" />
<line x1="615.25" y1="341.83653333333336" x2="628.25" y2="341.83653333333336" stroke="#1c1c1c" stroke-width="1.2" />
<rect x="609.2" y="346.95053333333334" width="25.09999999999991" height="82.44946666666664" fill="#fff" stroke="#1c1c1c" stroke-width="1.2"/>
<line x1="534.8" y1="303.4" x2="639.6" y2="303.4" stroke="#2a2a2a" stroke-width="1.2" />
<text transform="translate(587.50,298.10) scale(0.97,1.045)" font-size="12.3" text-anchor="middle" >Glutamate</text>
<text transform="translate(621.80,339.60) scale(0.97,1.045)" font-size="12.5" text-anchor="middle" font-weight="bold">**</text>
<text transform="translate(319.30,352.30) rotate(-90) scale(0.97,1.03)" font-size="13.1" text-anchor="middle" >TMRE fluorescence</text>
<text transform="translate(333.60,353.00) rotate(-90) scale(0.97,1.03)" font-size="12.8" text-anchor="middle" >(% of gated cells)</text>
</svg>
</body></html>
